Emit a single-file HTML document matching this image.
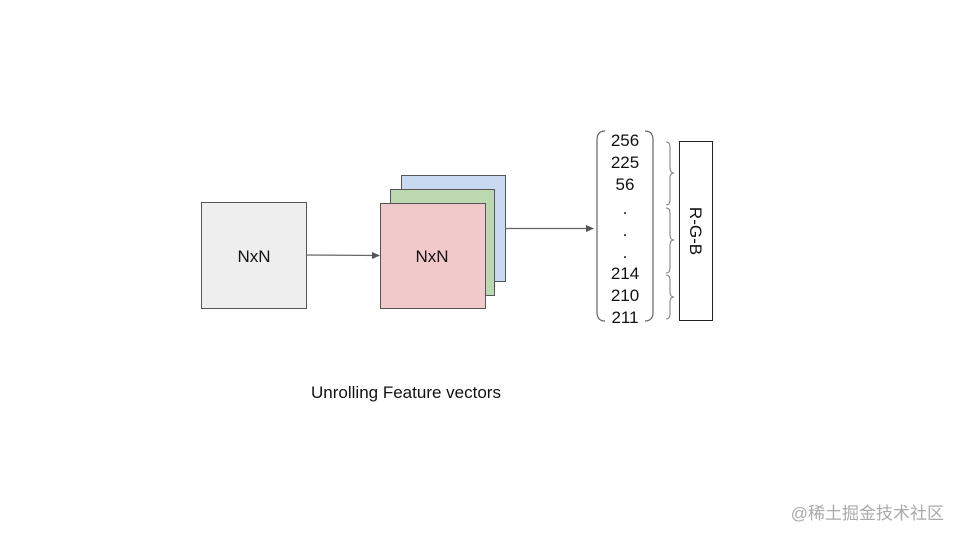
<!DOCTYPE html>
<html><head><meta charset="utf-8"><style>
html,body{margin:0;padding:0;background:#fff;width:960px;height:540px;overflow:hidden}
svg{display:block}
text{font-family:"Liberation Sans",Arial,sans-serif;fill:#111}
</style></head><body>
<svg width="960" height="540" viewBox="0 0 960 540" xmlns="http://www.w3.org/2000/svg">
<defs><marker id="a" markerWidth="8" markerHeight="8" refX="7" refY="4" orient="auto" markerUnits="userSpaceOnUse"><path d="M0,0.5 L8,4 L0,7.5 z" fill="#555"/></marker></defs>
<rect x="201.5" y="202.5" width="105" height="106" fill="#eeeeee" stroke="#555" stroke-width="1"/>
<text x="254" y="262" font-size="17" text-anchor="middle">NxN</text>
<line x1="306" y1="255" x2="379" y2="255.5" stroke="#666" stroke-width="1.2" marker-end="url(#a)"/>
<rect x="401.5" y="175.5" width="104" height="106" fill="#c9d9f2" stroke="#555"/>
<rect x="390.5" y="189.5" width="104" height="106" fill="#bcd8b0" stroke="#555"/>
<rect x="380.5" y="203.5" width="105" height="105" fill="#f2c9cb" stroke="#555"/>
<text x="432" y="262" font-size="17" text-anchor="middle">NxN</text>
<line x1="505" y1="228.5" x2="593" y2="228.5" stroke="#666" stroke-width="1.2" marker-end="url(#a)"/>
<path d="M605,131 Q597,131 597,140 L597,312 Q597,321 605,321" fill="none" stroke="#666" stroke-width="1.2"/>
<path d="M645,131 Q653,131 653,140 L653,312 Q653,321 645,321" fill="none" stroke="#666" stroke-width="1.2"/>
<g font-size="17" text-anchor="middle">
<text x="625" y="146">256</text>
<text x="625" y="168">225</text>
<text x="625" y="190">56</text>
<text x="625" y="214">.</text>
<text x="625" y="236">.</text>
<text x="625" y="258">.</text>
<text x="625" y="279">214</text>
<text x="625" y="301">210</text>
<text x="625" y="323">211</text>
</g>
<g fill="none" stroke="#777" stroke-width="1">
<path d="M666,142 Q670,142 670,147 L670,168 Q670,173 674,173 Q670,173 670,178 L670,200 Q670,205 666,205"/>
<path d="M666,208 Q670,208 670,213 L670,235 Q670,240 674,240 Q670,240 670,245 L670,268 Q670,273 666,273"/>
<path d="M666,275 Q670,275 670,280 L670,292 Q670,297 674,297 Q670,297 670,302 L670,314 Q670,319 666,319"/>
</g>
<rect x="679.5" y="141.5" width="33" height="179" fill="#fff" stroke="#222"/>
<text x="0" y="0" font-size="17" text-anchor="middle" transform="translate(690,231) rotate(90)">R-G-B</text>
<text x="406" y="398" font-size="17" text-anchor="middle">Unrolling Feature vectors</text>
<text x="944" y="519" font-size="17" text-anchor="end" style="fill:#aaa;font-family:'Liberation Sans','Noto Sans CJK SC',sans-serif">@稀土掘金技术社区</text>
</svg>
</body></html>
